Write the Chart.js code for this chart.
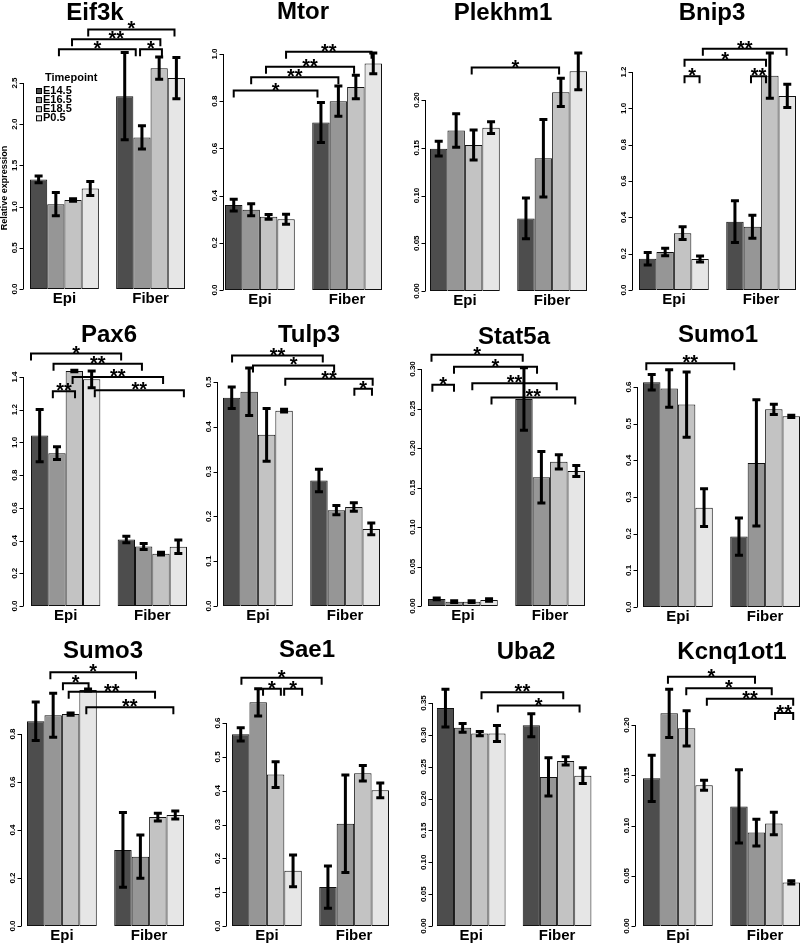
<!DOCTYPE html>
<html lang="en">
<head>
<meta charset="UTF-8">
<title>Relative expression by timepoint</title>
<script src="https://cdn.jsdelivr.net/npm/chart.js@4.4.1/dist/chart.umd.min.js"></script>
<style>
  html, body { margin: 0; padding: 0; background: #fff; }
  #page { position: relative; width: 800px; height: 944px; overflow: hidden; }
  canvas { position: absolute; }
</style>
</head>
<body>
<div id="page"></div>
<script>
const timepoints = ['E14.5', 'E16.5', 'E18.5', 'P0.5'];
const tissues = ['Epi', 'Fiber'];
const barColors = ['#4d4d4d', '#969696', '#c3c3c3', '#e6e6e6'];
const genes = ['Eif3k', 'Mtor', 'Plekhm1', 'Bnip3', 'Pax6', 'Tulp3', 'Stat5a', 'Sumo1', 'Sumo3', 'Sae1', 'Uba2', 'Kcnq1ot1'];

// mean / error per gene: Epi E14.5..P0.5, then Fiber E14.5..P0.5
const eif3kMean = [1.33, 1.03, 1.08, 1.22, 2.34, 1.84, 2.68, 2.56];
const eif3kErr  = [0.04, 0.14, 0.015, 0.085, 0.53, 0.14, 0.135, 0.25];
const mtorMean = [0.36, 0.34, 0.31, 0.30, 0.71, 0.80, 0.86, 0.96];
const mtorErr  = [0.025, 0.025, 0.01, 0.021, 0.085, 0.064, 0.05, 0.044];
const plekhm1Mean = [0.149, 0.168, 0.153, 0.171, 0.076, 0.139, 0.208, 0.230];
const plekhm1Err  = [0.0077, 0.0175, 0.0157, 0.0061, 0.0213, 0.0405, 0.0147, 0.0192];
const bnip3Mean = [0.172, 0.209, 0.313, 0.170, 0.376, 0.348, 1.18, 1.068];
const bnip3Err  = [0.034, 0.021, 0.035, 0.0165, 0.115, 0.063, 0.124, 0.064];
const pax6Mean = [1.042, 0.934, 1.437, 1.386, 0.407, 0.364, 0.320, 0.362];
const pax6Err  = [0.16, 0.039, 0.005, 0.051, 0.02, 0.018, 0.008, 0.041];
const tulp3Mean = [0.465, 0.478, 0.382, 0.436, 0.280, 0.214, 0.221, 0.172];
const tulp3Err  = [0.024, 0.053, 0.059, 0.003, 0.025, 0.0104, 0.0093, 0.013];
const stat5aMean = [0.009, 0.0055, 0.0055, 0.0076, 0.262, 0.163, 0.1825, 0.171];
const stat5aErr  = [0.0012, 0.001, 0.001, 0.0015, 0.0395, 0.0327, 0.009, 0.007];
const sumo1Mean = [0.613, 0.596, 0.552, 0.271, 0.192, 0.393, 0.539, 0.520];
const sumo1Err  = [0.021, 0.051, 0.089, 0.0515, 0.051, 0.172, 0.0137, 0.003];
const sumo3Mean = [0.853, 0.878, 0.883, 0.983, 0.317, 0.289, 0.454, 0.4625];
const sumo3Err  = [0.0806, 0.092, 0.005, 0.004, 0.156, 0.09, 0.016, 0.017];
const sae1Mean = [0.5665, 0.661, 0.4475, 0.163, 0.115, 0.302, 0.4515, 0.401];
const sae1Err  = [0.0197, 0.04, 0.038, 0.0467, 0.0625, 0.144, 0.0226, 0.0216];
const uba2Mean = [0.342, 0.311, 0.302, 0.302, 0.315, 0.234, 0.259, 0.236];
const uba2Err  = [0.0295, 0.007, 0.0034, 0.0125, 0.018, 0.03, 0.0065, 0.0125];
const kcnq1ot1Mean = [0.147, 0.2116, 0.1967, 0.140, 0.119, 0.093, 0.102, 0.0434];
const kcnq1ot1Err  = [0.023, 0.024, 0.0176, 0.005, 0.0365, 0.0133, 0.0113, 0.0017];

// y tick labels
const eif3kTicks = ['0.0', '0.5', '1.0', '1.5', '2.0', '2.5'];
const mtorTicks = ['0.0', '0.2', '0.4', '0.6', '0.8', '1.0'];
const plekhm1Ticks = ['0.00', '0.05', '0.10', '0.15', '0.20'];
const bnip3Ticks = ['0.0', '0.2', '0.4', '0.6', '0.8', '1.0', '1.2'];
const pax6Ticks = ['0.0', '0.2', '0.4', '0.6', '0.8', '1.0', '1.2', '1.4'];
const tulp3Ticks = ['0.0', '0.1', '0.2', '0.3', '0.4', '0.5'];
const stat5aTicks = ['0.00', '0.05', '0.10', '0.15', '0.20', '0.25', '0.30'];
const sumo1Ticks = ['0.0', '0.1', '0.2', '0.3', '0.4', '0.5', '0.6'];
const sumo3Ticks = ['0.0', '0.2', '0.4', '0.6', '0.8'];
const sae1Ticks = ['0.0', '0.1', '0.2', '0.3', '0.4', '0.5', '0.6'];
const uba2Ticks = ['0.00', '0.05', '0.10', '0.15', '0.20', '0.25', '0.30', '0.35'];
const kcnq1ot1Ticks = ['0.00', '0.05', '0.10', '0.15', '0.20'];

// significance brackets: [from slot, to slot, height, label]
// slots are bar positions: 0-3 Epi, 5-8 Fiber (fractions = part of a bar width)
const eif3kSig = [[1.18, 5.64, 2.91, '*'], [5.89, 7.16, 2.91, '*'], [1.94, 7.07, 3.03, '**'], [2.88, 7.89, 3.15, '*']];
const mtorSig = [[0, 4.8, 0.845, '*'], [1, 6, 0.901, '**'], [1.85, 6.9, 0.946, '**'], [3, 7.9, 1.01, '**']];
const plekhm1Sig = [[1.89, 6.9, 0.234, '*']];
const bnip3Sig = [[2.11, 2.97, 1.176, '*'], [5.92, 6.78, 1.176, '**'], [2.11, 6.78, 1.268, '*'], [3.16, 7.96, 1.328, '**']];
const pax6Sig = [[-0.5, 4.7, 1.543, '*'], [0.8, 5.9, 1.481, '**'], [1.9, 7.12, 1.40, '**'], [3.18, 8.32, 1.319, '**'], [0.76, 2.04, 1.313, '**']];
const tulp3Sig = [[0.02, 5.22, 0.559, '**'], [1.22, 5.87, 0.537, '*'], [3.07, 8.08, 0.507, '**'], [7.03, 8.04, 0.485, '*']];
const stat5aSig = [[-0.3, 4.93, 0.318, '*'], [-0.25, 0.99, 0.280, '*'], [0.99, 5.75, 0.303, '*'], [2.04, 6.88, 0.282, '**'], [3.14, 7.94, 0.264, '**']];
const sumo1Sig = [[-0.31, 4.73, 0.665, '**']];
const sumo3Sig = [[0.84, 5.75, 1.057, '*'], [1.56, 3.03, 1.011, '*'], [1.89, 6.84, 0.976, '**'], [2.9, 7.89, 0.911, '**']];
const sae1Sig = [[0.04, 4.64, 0.734, '*'], [1.28, 2.3, 0.701, '*'], [2.49, 3.52, 0.701, '*']];
const uba2Sig = [[2.1, 6.86, 0.367, '**'], [3.05, 7.81, 0.346, '*']];
const kcnq1ot1Sig = [[0.93, 5.92, 0.248, '*'], [1.98, 6.88, 0.2365, '*'], [3.16, 8.11, 0.226, '**'], [7.07, 8.11, 0.212, '**']];

const means = [eif3kMean, mtorMean, plekhm1Mean, bnip3Mean, pax6Mean, tulp3Mean, stat5aMean, sumo1Mean, sumo3Mean, sae1Mean, uba2Mean, kcnq1ot1Mean];
const errs = [eif3kErr, mtorErr, plekhm1Err, bnip3Err, pax6Err, tulp3Err, stat5aErr, sumo1Err, sumo3Err, sae1Err, uba2Err, kcnq1ot1Err];
const tickSets = [eif3kTicks, mtorTicks, plekhm1Ticks, bnip3Ticks, pax6Ticks, tulp3Ticks, stat5aTicks, sumo1Ticks, sumo3Ticks, sae1Ticks, uba2Ticks, kcnq1ot1Ticks];
const sigSets = [eif3kSig, mtorSig, plekhm1Sig, bnip3Sig, pax6Sig, tulp3Sig, stat5aSig, sumo1Sig, sumo3Sig, sae1Sig, uba2Sig, kcnq1ot1Sig];

// page layout (px)
const cellX = [0, 200, 400, 600], cellW = [200, 200, 200, 210];
const rowTop = [0, 310, 620], rowH = [320, 320, 324];
const plotL = [30, 225, 430, 639, 31, 223, 428, 643, 27, 232, 437, 643];
const plotR = [185, 382, 587, 796, 187, 380, 585, 800, 184, 389, 594, 800];
const plotTop = [83, 54, 100, 72, 377, 382, 369, 387, 734, 723, 703, 725];
const plotBase = [289, 290, 291, 290, 606, 606, 606, 607, 926, 926, 926, 926];
const axisX = [23, 223, 425, 632, 23, 217, 421, 637, 21, 226, 432, 635];
const titleX = [95, 303, 503, 712, 109, 309, 514, 718, 103, 307, 526, 732];
const titleY = [13, 12, 13, 13, 335, 335, 337, 335, 651, 650, 652, 652];

const FONT = '"Liberation Sans", Arial, Helvetica, sans-serif';

const decor = {
  id: 'decor',
  afterDatasetsDraw(chart, args, o) {
    const ctx = chart.ctx, ys = chart.scales.y;
    const ox = o.ox, oy = o.oy;
    ctx.save();
    ctx.strokeStyle = '#000';
    ctx.fillStyle = '#000';

    // error bars
    ctx.lineWidth = 3;
    timepoints.forEach((t, s) => {
      chart.getDatasetMeta(s).data.forEach((bar, g) => {
        const k = g * 4 + s;
        const hi = ys.getPixelForValue(o.mean[k] + o.err[k]);
        const lo = ys.getPixelForValue(o.mean[k] - o.err[k]);
        ctx.beginPath();
        ctx.moveTo(bar.x, hi); ctx.lineTo(bar.x, lo);
        ctx.moveTo(bar.x - 4, hi); ctx.lineTo(bar.x + 4, hi);
        ctx.moveTo(bar.x - 4, lo); ctx.lineTo(bar.x + 4, lo);
        ctx.stroke();
      });
    });

    // significance brackets
    const first = chart.getDatasetMeta(0).data[0];
    const x0 = first.x, bw = first.width;
    ctx.lineWidth = 2;
    ctx.font = 'bold 20px ' + FONT;
    ctx.textAlign = 'center';
    ctx.textBaseline = 'alphabetic';
    o.sig.forEach(([a, b, v, lab]) => {
      const xa = x0 + a * bw, xb = x0 + b * bw, y = ys.getPixelForValue(v);
      ctx.beginPath();
      ctx.moveTo(xa, y + 7); ctx.lineTo(xa, y); ctx.lineTo(xb, y); ctx.lineTo(xb, y + 7);
      ctx.stroke();
      ctx.fillText(lab, (xa + xb) / 2, y + 6);
    });

    // y axis
    const ax = Math.round(o.axis - ox) + 0.5;
    const tv = o.ticks.map(Number);
    ctx.lineWidth = 1;
    ctx.beginPath();
    ctx.moveTo(ax, ys.getPixelForValue(0));
    ctx.lineTo(ax, ys.getPixelForValue(tv[tv.length - 1]));
    tv.forEach(v => {
      const y = Math.round(ys.getPixelForValue(v)) + 0.5;
      ctx.moveTo(ax, y); ctx.lineTo(ax - 4, y);
    });
    ctx.stroke();
    ctx.font = 'bold 8px ' + FONT;
    ctx.textBaseline = 'middle';
    o.ticks.forEach((lab, i) => {
      ctx.save();
      ctx.translate(ax - 9, ys.getPixelForValue(tv[i]));
      ctx.rotate(-Math.PI / 2);
      ctx.fillText(lab, 0, 0);
      ctx.restore();
    });

    // category labels
    ctx.font = 'bold 15px ' + FONT;
    const base = ys.getPixelForValue(0);
    tissues.forEach((lab, g) => {
      const a = chart.getDatasetMeta(0).data[g].x, b = chart.getDatasetMeta(3).data[g].x;
      ctx.fillText(lab, (a + b) / 2, base + 10);
    });

    // title
    ctx.font = 'bold 24px ' + FONT;
    ctx.fillText(o.gene, o.tx - ox, o.ty - oy);

    if (o.first) {
      ctx.save();
      ctx.font = 'bold 9px ' + FONT;
      ctx.translate(5 - ox, 188 - oy);
      ctx.rotate(-Math.PI / 2);
      ctx.fillText('Relative expression', 0, 0);
      ctx.restore();

      ctx.textAlign = 'left';
      ctx.font = 'bold 11px ' + FONT;
      ctx.fillText('Timepoint', 45 - ox, 78 - oy);
      timepoints.forEach((t, i) => {
        const y = 91 + i * 9.1 - oy;
        ctx.fillStyle = barColors[i];
        ctx.fillRect(36 - ox, y - 2.5, 5, 5);
        ctx.lineWidth = 1;
        ctx.strokeRect(36.5 - ox, y - 2.5, 5, 5);
        ctx.fillStyle = '#000';
        ctx.fillText(t, 43 - ox, y);
      });
    }
    ctx.restore();
  }
};

const page = document.getElementById('page');
genes.forEach((gene, i) => {
  const col = i % 4, row = Math.floor(i / 4);
  const cx = cellX[col], cy = rowTop[row], cw = cellW[col], ch = rowH[row];
  const bw = (plotR[i] - plotL[i]) / 9;
  const left = plotL[i] - bw / 2, right = plotR[i] + bw / 2;
  const cv = document.createElement('canvas');
  cv.width = cw; cv.height = ch;
  cv.style.left = cx + 'px'; cv.style.top = cy + 'px';
  cv.style.width = cw + 'px'; cv.style.height = ch + 'px';
  page.appendChild(cv);
  const ticks = tickSets[i];
  new Chart(cv, {
    type: 'bar',
    data: {
      labels: tissues,
      datasets: timepoints.map((t, s) => ({
        label: t,
        data: [means[i][s], means[i][4 + s]],
        backgroundColor: barColors[s],
        borderColor: '#111',
        borderWidth: 1,
        borderSkipped: false,
        barPercentage: 1,
        categoryPercentage: 0.8,
        clip: false
      }))
    },
    options: {
      responsive: false,
      animation: false,
      events: [],
      layout: { padding: { left: left - cx, right: cx + cw - right, top: plotTop[i] - cy, bottom: cy + ch - plotBase[i] } },
      scales: {
        x: { display: false },
        y: { display: false, min: 0, max: Number(ticks[ticks.length - 1]) }
      },
      plugins: {
        legend: { display: false },
        tooltip: { enabled: false },
        decor: {
          gene, mean: means[i], err: errs[i], ticks, sig: sigSets[i],
          axis: axisX[i], tx: titleX[i], ty: titleY[i], ox: cx, oy: cy, first: i === 0
        }
      }
    },
    plugins: [decor]
  });
});
</script>
</body>
</html>
